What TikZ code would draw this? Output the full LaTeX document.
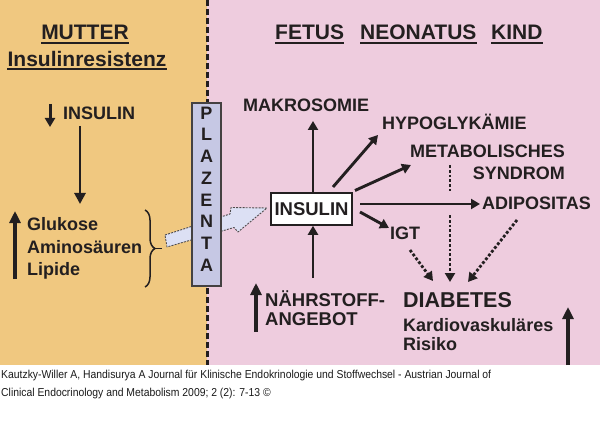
\documentclass[tikz,border=0pt]{standalone}
\usepackage{fontspec}
\setmainfont{Liberation Sans}
\usepackage{graphicx}
\usetikzlibrary{arrows.meta,decorations.pathreplacing}
\definecolor{orng}{HTML}{F0C880}
\definecolor{pnk}{HTML}{EECCDE}
\definecolor{plz}{HTML}{C6C8E4}
\definecolor{ink}{HTML}{231F20}
\definecolor{fat}{HTML}{DCE0F4}
\definecolor{capc}{HTML}{1A1A1A}
\newlength\capwd
\begin{document}
\settowidth\capwd{\fontsize{11.5}{13}\selectfont Kautzky-Willer A, Handisurya A Journal für Klinische Endokrinologie und Stoffwechsel - Austrian Journal of}%
\pgfmathsetmacro\capsc{490/\capwd}%
\begin{tikzpicture}[x=1pt,y=-1pt,
  lbl/.style={font=\fontsize{18}{20}\selectfont\bfseries, text=ink, inner sep=0, anchor=base west},
  head/.style={font=\fontsize{21}{24}\selectfont\bfseries, text=ink, inner sep=0, anchor=base west},
  ul/.style={draw=ink, line width=2pt},
  arr/.style={draw=ink, line width=2.9pt, -{Triangle[length=9pt,width=10pt]}},
  bigarr/.style={draw=ink, line width=3.2pt, -{Triangle[length=12pt,width=11pt]}},
  dotarr/.style={draw=ink, line width=2.8pt, dash pattern=on 2.8pt off 2pt, -{Triangle[length=9pt,width=10pt]}},
  capt/.style={font=\fontsize{11.5}{13}\selectfont, text=capc, inner sep=0, anchor=base west}]
\useasboundingbox (0,0) rectangle (600,425);
% backgrounds
\fill[orng] (0,0) rectangle (207,365);
\fill[pnk] (207,0) rectangle (600,365);
\draw[ink, line width=3pt, dash pattern=on 6pt off 3pt] (207,0) -- (207,365);

% headings
\node[head, anchor=base] (mutter) at (85,40) {MUTTER};
\draw[ul] ([yshift=-3.5pt]mutter.base west) -- ([yshift=-3.5pt]mutter.base east);
\node[head, anchor=base] (resist) at (87,66.5) {Insulinresistenz};
\draw[ul] ([yshift=-3pt]resist.base west) -- ([yshift=-3pt]resist.base east);
\node[head] (fetus) at (275,39.5) {FETUS};
\draw[ul] ([yshift=-3.5pt]fetus.base west) -- ([yshift=-3.5pt]fetus.base east);
\node[head] (neon) at (360,39.5) {NEONATUS};
\draw[ul] ([yshift=-3.5pt]neon.base west) -- ([yshift=-3.5pt]neon.base east);
\node[head] (kind) at (491,39.5) {KIND};
\draw[ul] ([yshift=-3.5pt]kind.base west) -- ([yshift=-3.5pt]kind.base east);

% mother side
\node[lbl] (minsulin) at (63,119.5) {INSULIN};
\coordinate (sa1) at (50,104);
\coordinate (sa2) at (50,127);
\draw[draw=ink, line width=3pt, -{Triangle[length=9pt,width=10pt]}] (sa1) -- (sa2);
\coordinate (da1) at (80,126);
\coordinate (da2) at (80,204);
\draw[arr, -{Triangle[length=11pt,width=11pt]}] (da1) -- (da2);
\node[lbl] (glu) at (27,230.5) {Glukose};
\node[lbl] (amino) at (27,253) {Aminosäuren};
\node[lbl] (lip) at (27,275.5) {Lipide};
\coordinate (ua1) at (15,279);
\coordinate (ua2) at (15,211);
\draw[bigarr] (ua1) -- (ua2);
\coordinate (br1) at (145,210);
\coordinate (br2) at (145,287);
\draw[ink, line width=1.5pt, decorate, decoration={brace, amplitude=10pt}] (br1) -- (br2);
\coordinate (brt) at (155,248.5);
\coordinate (brt2) at (162,248.5);
\draw[ink, line width=1.6pt] (brt) -- (brt2);

% fat arrow through placenta
\draw[fill=fat, draw=ink!80, line width=0.9pt, dash pattern=on 2pt off 1.2pt, line join=round]
  (165,235) -- (230,214) -- (231,207.5) -- (267,208)
  -- (238,232) -- (234,227.5) -- (167,247) -- cycle;

% placenta
\node[draw=ink!85, fill=plz, line width=1.4pt, minimum width=29pt, minimum height=183pt, inner sep=0] (plaz) at (206.5,194.5) {};
\foreach \l [count=\i] in {P,L,A,Z,E,N,T,A}
  \node[lbl, anchor=base] (pl\i) at (206.5, {119.3+(\i-1)*21.7}) {\l};

% fetus side
\node[draw=ink, fill=white, line width=1.5pt, minimum width=81pt, minimum height=32pt, inner sep=0,
      font=\fontsize{18.5}{20}\selectfont\bfseries, text=ink] (ins) at (311.5,209) {INSULIN};
\node[lbl] (makro) at (243,112) {MAKROSOMIE};
\node[lbl] (hypo) at (382,129.3) {HYPOGLYKÄMIE};
\node[lbl, font=\fontsize{18}{22.3}\selectfont\bfseries, align=right, anchor=base east] (meta) at (565,180) {METABOLISCHES\\SYNDROM};
\node[lbl] (adipo) at (482,209.5) {ADIPOSITAS};
\node[lbl] (igt) at (390,239.5) {IGT};
\node[lbl, font=\fontsize{21.5}{24}\selectfont\bfseries] (diab) at (403,307.7) {DIABETES};
\node[lbl, font=\fontsize{18}{18.5}\selectfont\bfseries, align=left] (kard) at (403,350.2) {Kardiovaskuläres\\Risiko};
\node[lbl, font=\fontsize{18.5}{19.7}\selectfont\bfseries, align=left] (naehr) at (265,325.7) {NÄHRSTOFF-\\ANGEBOT};

% arrows from INSULIN
\coordinate (mk) at (313,121);
\draw[arr] (ins.north -| mk) -- (mk);
\coordinate (hs) at (333,187);
\coordinate (hy) at (378,135);
\draw[arr] (hs) -- (hy);
\coordinate (ms) at (355,190.5);
\coordinate (me) at (411,165);
\draw[arr] (ms) -- (me);
\coordinate (as) at (360,204);
\coordinate (ae) at (480,204);
\draw[arr] (as) -- (ae);
\coordinate (is) at (360,212);
\coordinate (ie) at (389,228);
\draw[arr] (is) -- (ie);
\coordinate (ns) at (313,278);
\draw[arr] (ns) -- (ins.south -| ns);

% dotted
\coordinate (dv1) at (450,165);
\coordinate (dv2) at (450,191);
\draw[ink, line width=2.8pt, dash pattern=on 2.8pt off 2pt] (dv1) -- (dv2);
\coordinate (d1s) at (410,250);
\coordinate (d1e) at (433,281);
\draw[dotarr] (d1s) -- (d1e);
\coordinate (d2s) at (450,215);
\coordinate (d2e) at (450,282);
\draw[dotarr] (d2s) -- (d2e);
\coordinate (d3s) at (517,220);
\coordinate (d3e) at (468,282);
\draw[dotarr] (d3s) -- (d3e);

% big up arrows
\coordinate (na1) at (256,332);
\coordinate (na2) at (256,283);
\draw[bigarr] (na1) -- (na2);
\coordinate (ra1) at (568,365);
\coordinate (ra2) at (568,307);
\draw[bigarr] (ra1) -- (ra2);

% caption
\node[capt] (cap1) at (1,378.5) {\scalebox{\capsc}[1]{Kautzky-Willer A, Handisurya A Journal für Klinische Endokrinologie und Stoffwechsel - Austrian Journal of}};
\node[capt] (cap2) at (1,396) {\scalebox{\capsc}[1]{Clinical Endocrinology and Metabolism 2009; 2 (2): 7-13 ©}};
\end{tikzpicture}
\end{document}
